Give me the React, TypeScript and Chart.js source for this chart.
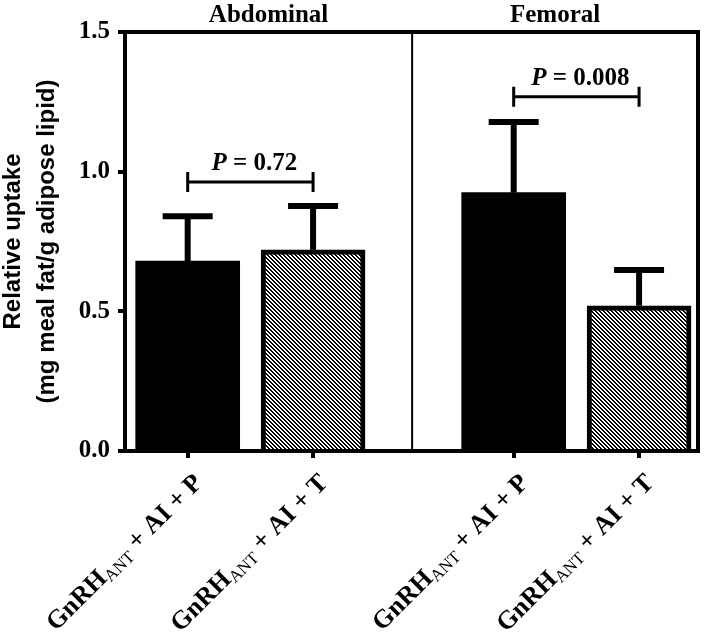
import React, { useEffect, useRef } from 'react';
import { Chart, registerables } from 'chart.js';

Chart.register(...registerables);

// ---------- data ----------
const regions = ['Abdominal', 'Femoral'];
const labelMain = ['GnRH', 'GnRH', 'GnRH', 'GnRH'];
const labelSub = ['ANT', 'ANT', 'ANT', 'ANT'];
const labelTail = [' + AI + P', ' + AI + T', ' + AI + P', ' + AI + T'];
const barX = [0.5, 1.5, 3.1, 4.1];
const means = [0.68, 0.72, 0.925, 0.52];
const sem = [0.16, 0.157, 0.253, 0.128];
const hatched = [false, true, false, true];
const pValues = ['0.72', '0.008'];
const bracketPairs = [[0, 1], [2, 3]];
const bracketY = [0.963, 1.268];
const dividerX = 2.29;
const xMax = 4.57;
const yTicks = [0, 0.5, 1.0, 1.5];
const yTitle = ['Relative uptake', '(mg meal fat/g adipose lipid)'];

const SERIF = '"Liberation Serif", "Times New Roman", serif';
const SANS = '"Liberation Sans", Arial, sans-serif';

function makeHatch(): CanvasPattern | string {
  const c = document.createElement('canvas');
  c.width = 4;
  c.height = 4;
  const g = c.getContext('2d');
  if (!g) return '#000';
  g.fillStyle = '#fff';
  g.fillRect(0, 0, 4, 4);
  g.fillStyle = '#000';
  for (let yy = 0; yy < 4; yy++) {
    g.fillRect(yy % 4, yy, 1, 1);
    g.fillRect((yy + 1) % 4, yy, 1, 1);
  }
  return g.createPattern(c, 'repeat') || '#000';
}

const decorPlugin = {
  id: 'decor',
  afterDatasetsDraw(chart: any) {
    const { ctx, chartArea: ca, scales } = chart;
    const x = scales.x;
    const y = scales.y;
    ctx.save();
    ctx.strokeStyle = '#000';
    ctx.fillStyle = '#000';

    // error bars (upper only)
    barX.forEach((bx, i) => {
      const px = x.getPixelForValue(bx);
      const top = y.getPixelForValue(means[i]);
      const e = y.getPixelForValue(means[i] + sem[i]);
      ctx.lineWidth = 6;
      ctx.lineCap = 'butt';
      ctx.beginPath();
      ctx.moveTo(px, top);
      ctx.lineTo(px, e);
      ctx.stroke();
      ctx.beginPath();
      ctx.moveTo(px - 25, e);
      ctx.lineTo(px + 25, e);
      ctx.stroke();
    });

    // top / right border, divider, axis corner
    ctx.lineWidth = 4;
    ctx.beginPath();
    ctx.moveTo(ca.left - 2, ca.top);
    ctx.lineTo(ca.right, ca.top);
    ctx.lineTo(ca.right, ca.bottom + 2);
    ctx.stroke();
    ctx.beginPath();
    ctx.moveTo(ca.left - 6, ca.bottom);
    ctx.lineTo(ca.left, ca.bottom);
    ctx.stroke();
    const dx = x.getPixelForValue(dividerX);
    ctx.lineWidth = 2;
    ctx.beginPath();
    ctx.moveTo(dx, ca.top);
    ctx.lineTo(dx, ca.bottom);
    ctx.stroke();

    // region titles
    ctx.font = `bold 25px ${SERIF}`;
    ctx.textAlign = 'center';
    ctx.textBaseline = 'alphabetic';
    ctx.fillText(regions[0], (ca.left + dx) / 2, ca.top - 10);
    ctx.fillText(regions[1], (dx + ca.right) / 2, ca.top - 10);

    // brackets with P values
    bracketPairs.forEach((pair, k) => {
      const x1 = x.getPixelForValue(barX[pair[0]]);
      const x2 = x.getPixelForValue(barX[pair[1]]);
      const by = y.getPixelForValue(bracketY[k]);
      ctx.lineWidth = 3;
      ctx.beginPath();
      ctx.moveTo(x1, by);
      ctx.lineTo(x2, by);
      ctx.moveTo(x1, by - 10);
      ctx.lineTo(x1, by + 10);
      ctx.moveTo(x2, by - 10);
      ctx.lineTo(x2, by + 10);
      ctx.stroke();
      const fP = `italic bold 25px ${SERIF}`;
      const fR = `bold 25px ${SERIF}`;
      const rest = ' = ' + pValues[k];
      ctx.font = fP;
      const w1 = ctx.measureText('P').width;
      ctx.font = fR;
      const w2 = ctx.measureText(rest).width;
      const cx = (x1 + x2) / 2 + 4;
      const sx = cx - (w1 + w2) / 2;
      ctx.textAlign = 'left';
      ctx.font = fP;
      ctx.fillText('P', sx, by - 12);
      ctx.font = fR;
      ctx.fillText(rest, sx + w1, by - 12);
    });

    // rotated x labels
    barX.forEach((bx, i) => {
      const px = x.getPixelForValue(bx);
      const fMain = `bold 26px ${SERIF}`;
      const fSub = `17px ${SERIF}`;
      ctx.save();
      ctx.translate(px + 16, ca.bottom + 33);
      ctx.rotate(-Math.PI / 4);
      ctx.textAlign = 'left';
      ctx.textBaseline = 'alphabetic';
      ctx.font = fMain;
      const w1 = ctx.measureText(labelMain[i]).width;
      const w3 = ctx.measureText(labelTail[i]).width;
      ctx.font = fSub;
      const w2 = ctx.measureText(labelSub[i]).width;
      let cx = -(w1 + w2 + w3);
      ctx.font = fMain;
      ctx.fillText(labelMain[i], cx, 0);
      cx += w1;
      ctx.font = fSub;
      ctx.fillText(labelSub[i], cx, 4);
      cx += w2;
      ctx.font = fMain;
      ctx.fillText(labelTail[i], cx, 0);
      ctx.restore();
    });

    ctx.restore();
  },
};

export default function App() {
  const ref = useRef<HTMLCanvasElement | null>(null);

  useEffect(() => {
    if (!ref.current) return;
    const hatch = makeHatch();
    const chart = new Chart(ref.current, {
      type: 'bar',
      data: {
        datasets: [
          {
            data: barX.map((bx, i) => ({ x: bx, y: means[i] })),
            backgroundColor: hatched.map((h) => (h ? hatch : '#000')) as any,
            borderColor: '#000',
            borderWidth: hatched.map((h) => (h ? 5 : 0)),
            barThickness: 104,
          },
        ],
      },
      options: {
        animation: false,
        responsive: true,
        maintainAspectRatio: false,
        layout: { padding: { left: 0, top: 32, right: 11, bottom: 0 } },
        plugins: {
          legend: { display: false },
          tooltip: { enabled: false },
        },
        scales: {
          x: {
            type: 'linear',
            min: 0,
            max: xMax,
            offset: false,
            afterBuildTicks: (s: any) => {
              s.ticks = barX.map((v) => ({ value: v }));
            },
            afterFit: (s: any) => {
              s.height = 185;
            },
            ticks: { display: false },
            grid: {
              offset: false,
              drawOnChartArea: false,
              drawTicks: true,
              tickLength: 7,
              lineWidth: 4,
              color: '#000',
            },
            border: { display: true, color: '#000', width: 4 },
          },
          y: {
            min: 0,
            max: 1.5,
            afterBuildTicks: (s: any) => {
              s.ticks = yTicks.map((v) => ({ value: v }));
            },
            afterFit: (s: any) => {
              s.width = 125;
            },
            ticks: {
              color: '#000',
              padding: 8,
              font: { family: SERIF, size: 25, weight: 'bold' },
              callback: (v: any) => Number(v).toFixed(1),
            },
            grid: {
              drawOnChartArea: false,
              drawTicks: true,
              tickLength: 7,
              lineWidth: 4,
              color: '#000',
            },
            border: { display: true, color: '#000', width: 4 },
            title: {
              display: true,
              text: yTitle,
              color: '#000',
              font: { family: SANS, size: 24, weight: 'bold', lineHeight: 1.42 },
              padding: { top: -4, bottom: 0 },
            },
          },
        },
      },
      plugins: [decorPlugin],
    } as any);
    return () => chart.destroy();
  }, []);

  return (
    <div style={{ position: 'absolute', left: 0, top: 0, width: 709, height: 636, background: '#fff' }}>
      <canvas ref={ref} />
    </div>
  );
}
